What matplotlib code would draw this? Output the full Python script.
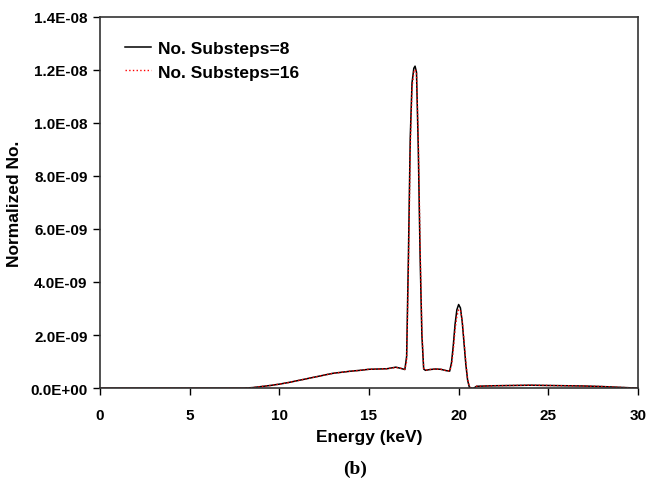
import matplotlib
matplotlib.use("Agg")
import matplotlib.pyplot as plt
import numpy as np
from matplotlib.ticker import FuncFormatter

# energy grid (keV) and normalized counts (x1e-9)
energy = [0, 2, 4, 6, 8, 8.5, 9, 9.5, 10, 10.5, 11, 11.5, 12, 12.5, 13, 13.5,
          14, 14.5, 15, 15.5, 16, 16.5, 16.8, 17.0, 17.1, 17.2, 17.3, 17.4,
          17.5, 17.57, 17.65, 17.75, 17.85, 17.95, 18.05, 18.15, 18.4, 18.7,
          19.0, 19.3, 19.5, 19.6, 19.7, 19.8, 19.9, 20.0, 20.1, 20.2, 20.3,
          20.4, 20.5, 20.6, 20.8, 21.0, 22, 23, 24, 25, 26, 27, 28, 29, 30]

substeps_8 = [0, 0, 0, 0, 0, 0.02, 0.06, 0.10, 0.15, 0.21, 0.28, 0.35, 0.42,
              0.49, 0.56, 0.60, 0.64, 0.67, 0.71, 0.72, 0.73, 0.79, 0.74, 0.70,
              1.2, 5.0, 9.4, 11.5, 12.05, 12.13, 11.9, 9.0, 5.0, 2.0, 0.72,
              0.67, 0.70, 0.72, 0.71, 0.66, 0.64, 0.95, 1.6, 2.4, 2.95, 3.15,
              3.02, 2.5, 1.7, 0.9, 0.3, 0.03, -0.02, 0.07, 0.09, 0.10, 0.11,
              0.10, 0.09, 0.08, 0.06, 0.03, 0.0]

substeps_16 = [0, 0, 0, 0, 0, 0.02, 0.06, 0.10, 0.15, 0.21, 0.28, 0.35, 0.42,
               0.49, 0.56, 0.60, 0.64, 0.67, 0.71, 0.72, 0.73, 0.78, 0.74, 0.71,
               1.0, 4.5, 9.0, 11.3, 11.9, 12.0, 11.9, 9.4, 5.4, 2.2, 0.75,
               0.68, 0.70, 0.72, 0.71, 0.66, 0.65, 0.85, 1.4, 2.2, 2.7, 2.95,
               2.95, 2.55, 1.8, 1.0, 0.35, 0.04, -0.01, 0.07, 0.09, 0.10, 0.11,
               0.10, 0.09, 0.08, 0.06, 0.03, 0.0]

x_ticks = [0, 5, 10, 15, 20, 25, 30]
y_ticks = [0, 2e-9, 4e-9, 6e-9, 8e-9, 1e-8, 1.2e-8, 1.4e-8]

plt.rcParams['font.family'] = ['Liberation Sans', 'DejaVu Sans']

fig = plt.figure(figsize=(6.47, 4.81), dpi=100)
ax = fig.add_axes([0.1546, 0.191, 0.8314, 0.7726])

e = np.array(energy)
ax.plot(e, np.array(substeps_8) * 1e-9, color='black', lw=1.1,
        label='No. Substeps=8')
ax.plot(e, np.array(substeps_16) * 1e-9, color='red', lw=1.0, ls=':',
        label='No. Substeps=16')

ax.set_xlim(0, 30)
ax.set_ylim(0, 1.4e-8)
ax.set_xticks(x_ticks)
ax.set_yticks(y_ticks)


def sci_fmt(v, pos):
    s = f"{v:.1E}"
    mant, exp = s.split('E')
    sign = exp[0]
    return f"{mant}E{sign}{int(exp[1:]):02d}"


ax.yaxis.set_major_formatter(FuncFormatter(sci_fmt))
ax.tick_params(direction='out', length=5, width=1, labelsize=11)
ax.tick_params(axis='x', pad=9)
ax.tick_params(axis='y', pad=4)
for lab in ax.get_xticklabels() + ax.get_yticklabels():
    lab.set_fontweight('bold')
for sp in ax.spines.values():
    sp.set_linewidth(1.2)
    sp.set_color('#333333')

ax.set_xlabel('Energy (keV)', fontsize=12.5, fontweight='bold', labelpad=5)
ax.set_ylabel('Normalized No.', fontsize=12.5, fontweight='bold', labelpad=6)

leg = ax.legend(loc='upper left', bbox_to_anchor=(0.0465, 0.934), frameon=False,
                borderaxespad=0, borderpad=0,
                handlelength=1.5, handletextpad=0.4, labelspacing=0.47,
                prop={'weight': 'bold', 'size': 12.5})

fig.text(0.549, 0.025, '(b)', fontsize=14, fontweight='bold',
         family=['Liberation Serif', 'DejaVu Serif'], ha='center', va='center')

plt.savefig('out.png', dpi=100)
plt.close()
